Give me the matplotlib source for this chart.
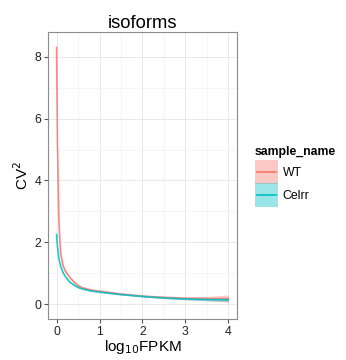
import matplotlib.pyplot as plt
from matplotlib.patches import Rectangle
from matplotlib.lines import Line2D

plt.rcParams['font.family'] = ['Liberation Sans', 'DejaVu Sans']

# smoothed CV^2 vs log10 FPKM for each sample
log_fpkm = [0, 0.02, 0.05, 0.08, 0.1, 0.15, 0.2, 0.3, 0.4, 0.5, 0.6, 0.8,
            1.0, 1.5, 2.0, 2.5, 3.0, 3.5, 4.0]
cv2_wt = [8.3, 5.2, 2.9, 1.9, 1.6, 1.25, 1.08, 0.88, 0.72, 0.6, 0.53, 0.46,
          0.42, 0.33, 0.26, 0.22, 0.19, 0.18, 0.18]
cv2_celrr = [2.25, 1.85, 1.5, 1.3, 1.2, 1.02, 0.9, 0.72, 0.62, 0.54, 0.49, 0.43,
             0.39, 0.31, 0.25, 0.2, 0.17, 0.15, 0.14]
# half width of the confidence band
band_wt = [0.1, 0.08, 0.06, 0.05, 0.05, 0.04, 0.04, 0.03, 0.03, 0.03, 0.03, 0.03,
           0.03, 0.03, 0.03, 0.04, 0.05, 0.07, 0.12]
band_celrr = [0.06, 0.05, 0.04, 0.03, 0.03, 0.03, 0.02, 0.02, 0.02, 0.02, 0.02, 0.02,
              0.02, 0.02, 0.02, 0.02, 0.03, 0.04, 0.06]

samples = ['WT', 'Celrr']
colors = ['#F8766D', '#00BFC4']

base = 11
key_gap = 0.4


class KeyHandler:
    # ggplot-like key: filled box with a centred line across it
    def legend_artist(self, legend, orig_handle, fontsize, handlebox):
        x0, y0 = -handlebox.xdescent, -handlebox.ydescent
        w, h = handlebox.width, handlebox.height
        ext = key_gap * fontsize / 2 + 0.3
        c = orig_handle.get_color()
        rect = Rectangle((x0, y0 - ext), w, h + 2 * ext, facecolor=c, alpha=0.4, lw=0,
                         transform=handlebox.get_transform())
        line = Line2D([x0 + 0.1 * w, x0 + 0.9 * w], [y0 + h / 2] * 2, color=c, lw=1.2,
                      transform=handlebox.get_transform())
        handlebox.add_artist(rect)
        handlebox.add_artist(line)
        return rect


fig = plt.figure(figsize=(3.46, 3.6), dpi=100)
ax = fig.add_axes([48 / 346, 41 / 360, 189 / 346, 287 / 360])

lines = []
for y, band, c in [(cv2_wt, band_wt, colors[0]), (cv2_celrr, band_celrr, colors[1])]:
    lo = [a - b for a, b in zip(y, band)]
    hi = [a + b for a, b in zip(y, band)]
    ax.fill_between(log_fpkm, lo, hi, color=c, alpha=0.35, lw=0)
    ln, = ax.plot(log_fpkm, y, color=c, lw=1.2, alpha=0.85)
    lines.append(ln)

ax.set_xlim(-0.2, 4.2)
ax.set_ylim(-0.48, 8.8)
ax.set_xticks([0, 1, 2, 3, 4])
ax.set_yticks([0, 2, 4, 6, 8])
ax.set_xticks([0.5, 1.5, 2.5, 3.5], minor=True)
ax.set_yticks([1, 3, 5, 7], minor=True)
ax.grid(True, which='major', color='#E5E5E5', lw=0.6)
ax.grid(True, which='minor', color='#F2F2F2', lw=0.5)
ax.set_axisbelow(True)
for s in ax.spines.values():
    s.set_color('#8C8C8C')
    s.set_linewidth(0.8)
ax.tick_params(which='major', length=3, color='#555555', labelsize=base * 0.8,
               labelcolor='#222222', pad=2)
ax.tick_params(which='minor', length=0)

ax.set_title('isoforms', fontsize=base * 1.2, pad=3)
ax.set_xlabel(r'log$_{10}$FPKM', fontsize=base, labelpad=0)
ax.set_ylabel(r'CV$^2$', fontsize=base, labelpad=2)

leg = fig.legend(lines, samples, title='sample_name', loc='upper left',
                 bbox_to_anchor=(255 / 346, 1 - 146 / 360), frameon=False,
                 fontsize=base * 0.8, title_fontsize=base * 0.8,
                 handlelength=1.9, handleheight=1.9, borderpad=0,
                 handletextpad=0.35, labelspacing=key_gap, borderaxespad=0,
                 handler_map={Line2D: KeyHandler()})
leg.get_title().set_fontweight('bold')
leg._legend_box.align = 'left'

fig.savefig('out.png', dpi=100)
